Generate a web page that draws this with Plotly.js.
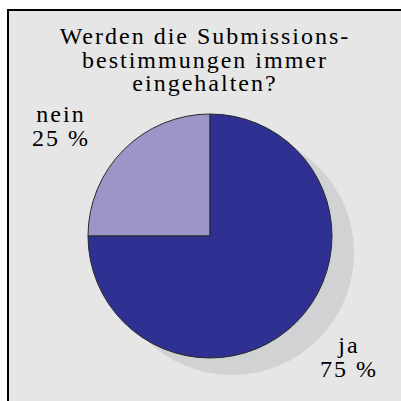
<!DOCTYPE html>
<html>
<head>
<meta charset="utf-8">
<script src="https://cdn.plot.ly/plotly-3.0.1.min.js"></script>
<style>
  html, body { margin: 0; padding: 0; background: #ffffff; width: 401px; height: 401px; overflow: hidden; }
  #chart { position: absolute; left: 7px; top: 9px; width: 392px; height: 390px;
           border-left: 2px solid #000; border-top: 2px solid #000; background: #e6e6e6; }
  #chart text.gtitle, #chart text.annotation-text { letter-spacing: 2px; }
</style>
</head>
<body>
<div id="chart"></div>
<script>
const titleText = "Werden die Submissions-<br>bestimmungen immer<br>eingehalten?";
const labels = ["nein", "ja"];
const values = [25, 75];
const colors = ["#9b95c8", "#2e3191"];
const W = 392, H = 390;
const FONT = "Liberation Serif";
const FS = 24;

const annotations = [
  {x: 52 / W, y: 1 - 118 / H, text: labels[0] + "<br>" + values[0] + " %"},
  {x: 340 / W, y: 1 - 349 / H, text: labels[1] + "<br>" + values[1] + " %"}
].map(a => Object.assign({xref: "paper", yref: "paper", showarrow: false,
  xanchor: "center", yanchor: "middle", align: "center",
  font: {family: FONT, size: FS, color: "#000"}}, a));

const data = [{
  type: "pie",
  labels: labels,
  values: values,
  sort: false,
  direction: "clockwise",
  rotation: 270,
  textinfo: "none",
  hoverinfo: "none",
  marker: {colors: colors, line: {color: "#2a2a2a", width: 1}},
  domain: {x: [79 / W, 323 / W], y: [1 - 347 / H, 1 - 103 / H]},
  showlegend: false
}];

const layout = {
  width: W, height: H,
  margin: {l: 0, r: 0, t: 0, b: 0},
  paper_bgcolor: "#e6e6e6",
  plot_bgcolor: "#e6e6e6",
  title: {
    text: titleText,
    font: {family: FONT, size: FS, color: "#000"},
    x: 196 / W, xanchor: "center",
    y: 1 - 33 / H, yanchor: "top", yref: "container"
  },
  shapes: [{
    type: "circle", xref: "paper", yref: "paper", layer: "below",
    x0: 101 / W, x1: 345 / W, y0: 1 - 364 / H, y1: 1 - 120 / H,
    fillcolor: "#d1d2d4", line: {width: 0}
  }],
  annotations: annotations,
  showlegend: false
};

Plotly.newPlot("chart", data, layout, {displayModeBar: false, staticPlot: true}).then(gd => {
  // tighter line spacing, as in the reference (scale Plotly's 1.3em steps)
  gd.querySelectorAll("text.gtitle tspan.line, text.annotation-text tspan.line").forEach(t => {
    const dy = parseFloat(t.getAttribute("dy"));
    if (dy) t.setAttribute("dy", (dy * 0.98 / 1.3).toFixed(3) + "em");
  });
});
</script>
</body>
</html>
